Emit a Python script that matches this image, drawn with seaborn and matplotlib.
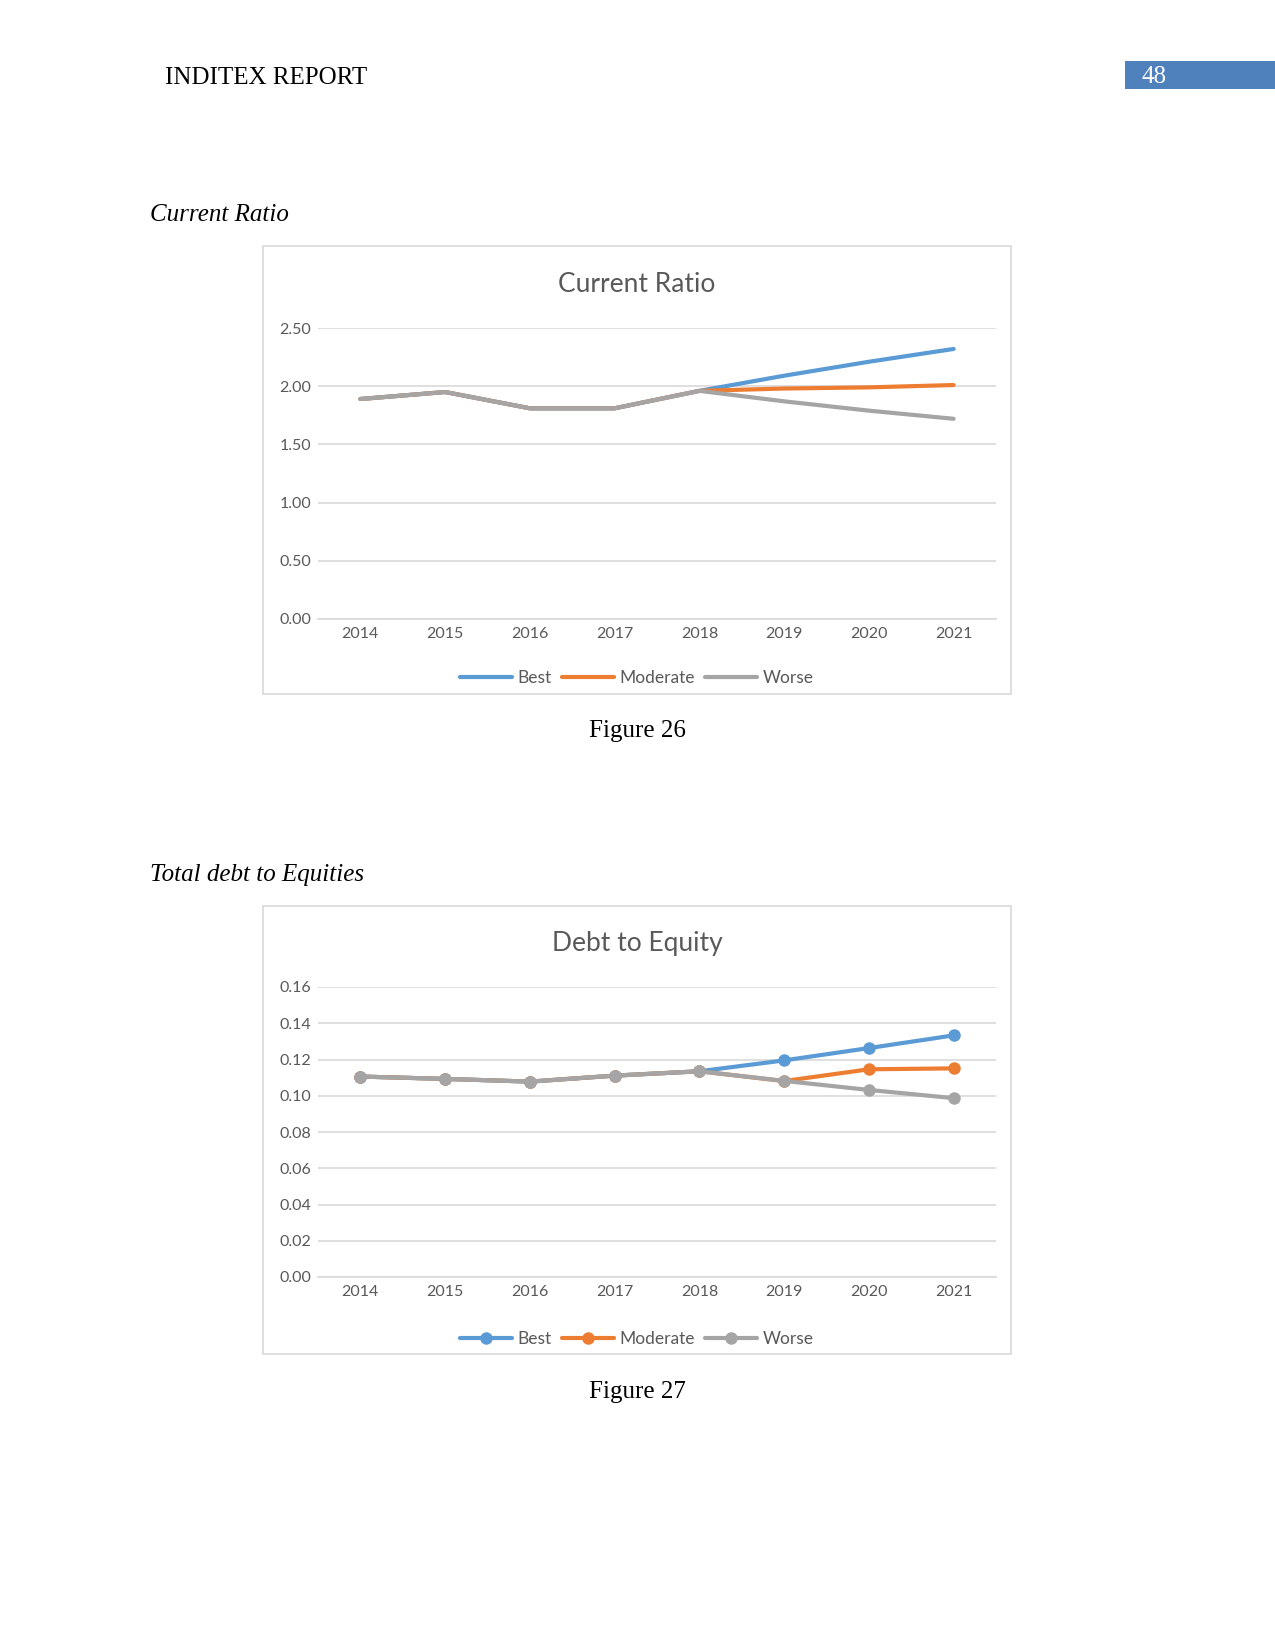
import matplotlib
matplotlib.use("Agg")
import matplotlib.pyplot as plt
import seaborn as sns
import pandas as pd
from matplotlib.patches import Rectangle

years = ["2014", "2015", "2016", "2017", "2018", "2019", "2020", "2021"]
scenarios = ["Best", "Moderate", "Worse"]

cr_best = [1.89, 1.95, 1.81, 1.81, 1.96, 2.09, 2.21, 2.32]
cr_moderate = [1.89, 1.95, 1.81, 1.81, 1.96, 1.98, 1.99, 2.01]
cr_worse = [1.89, 1.95, 1.81, 1.81, 1.96, 1.87, 1.79, 1.72]

de_best = [0.1106, 0.1093, 0.1078, 0.1111, 0.1135, 0.1195, 0.1263, 0.1333]
de_moderate = [0.1106, 0.1093, 0.1078, 0.1111, 0.1135, 0.1081, 0.1146, 0.1151]
de_worse = [0.1106, 0.1093, 0.1078, 0.1111, 0.1135, 0.1082, 0.1032, 0.0987]

cr_ticks = [0.0, 0.5, 1.0, 1.5, 2.0, 2.5]
de_ticks = [0.0, 0.02, 0.04, 0.06, 0.08, 0.10, 0.12, 0.14, 0.16]

colors = {"Best": "#5B9BD5", "Moderate": "#ED7D31", "Worse": "#A5A5A5"}
TXT = "#595959"
GRID = "#D9D9D9"

sns.set_theme(style="white")
plt.rcParams["font.family"] = ["Lato", "DejaVu Sans"]

W, H = 1275, 1650
fig = plt.figure(figsize=(W / 100, H / 100), dpi=100)


def long_df(b, m, w):
    rows = []
    for name, vals in zip(scenarios, [b, m, w]):
        for i, (y, v) in enumerate(zip(years, vals)):
            rows.append({"idx": i, "Year": y, "Scenario": name, "Value": v})
    return pd.DataFrame(rows)


def fx(px):
    return px / W


def fy(py):
    return 1 - py / H


def make_chart(box, plot, df, ticks, fmt, title, legend_y, markers):
    x0, y0, x1, y1 = box
    fig.patches.append(Rectangle((fx(x0), fy(y1)), fx(x1) - fx(x0), fy(y0) - fy(y1),
                                 transform=fig.transFigure, fill=False,
                                 edgecolor=GRID, linewidth=1.2))
    px0, py0, px1, py1 = plot
    ax = fig.add_axes([fx(px0), fy(py1), fx(px1) - fx(px0), fy(py0) - fy(py1)])
    sns.lineplot(data=df, x="idx", y="Value", hue="Scenario", hue_order=scenarios,
                 palette=colors, linewidth=3.0, ax=ax,
                 marker="o" if markers else None, markersize=9,
                 markeredgewidth=0, legend=False)
    ax.set_xlim(-0.5, len(years) - 0.5)
    ax.set_ylim(ticks[0], ticks[-1])
    ax.set_yticks(ticks)
    ax.set_yticklabels([fmt.format(t) for t in ticks], color=TXT, fontsize=11.5)
    ax.set_xticks(range(len(years)))
    ax.set_xticklabels(years, color=TXT, fontsize=11.5)
    ax.tick_params(axis="both", length=0, pad=6)
    ax.tick_params(axis="y", pad=5)
    ax.grid(axis="y", color=GRID, linewidth=1.2)
    ax.set_axisbelow(True)
    for s in ["top", "right", "left"]:
        ax.spines[s].set_visible(False)
    ax.spines["bottom"].set_color(GRID)
    ax.spines["bottom"].set_linewidth(1.2)
    ax.set_xlabel("")
    ax.set_ylabel("")
    fig.text(fx((x0 + x1) / 2), fy(title[1]), title[0], ha="center", va="center",
             fontsize=19, color=TXT)
    handles = [plt.Line2D([], [], color=colors[s], linewidth=3.0,
                          marker="o" if markers else None, markersize=9,
                          markeredgewidth=0) for s in scenarios]
    ax.legend(handles, scenarios, loc="center", ncol=3, frameon=False,
              bbox_to_anchor=(fx((x0 + x1) / 2), fy(legend_y)),
              bbox_transform=fig.transFigure, fontsize=12.5, labelcolor=TXT,
              handlelength=3.0, handletextpad=0.3, columnspacing=0.6)
    return ax


df1 = long_df(cr_best, cr_moderate, cr_worse)
df2 = long_df(de_best, de_moderate, de_worse)

make_chart((263, 246, 1011, 694), (318, 328, 996, 619), df1, cr_ticks, "{:.2f}",
           ("Current Ratio", 284), 678, False)
make_chart((263, 906, 1011, 1354), (318, 987, 996, 1277), df2, de_ticks, "{:.2f}",
           ("Debt to Equity", 944), 1339, True)

serif = ["Liberation Serif", "DejaVu Serif"]
fig.text(fx(165), fy(78), "INDITEX REPORT", ha="left", va="center",
         fontsize=18, family=serif, color="black")
fig.patches.append(Rectangle((fx(1125), fy(89)), fx(1275) - fx(1125), fy(61) - fy(89),
                             transform=fig.transFigure, facecolor="#4F81BD",
                             edgecolor="none"))
fig.text(fx(1141), fy(77), "48", ha="left", va="center", fontsize=18,
         family=serif, color="white")
fig.text(fx(150), fy(215), "Current Ratio", ha="left", va="center", fontsize=18,
         family=serif, style="italic", color="black")
fig.text(fx(637), fy(731), "Figure 26", ha="center", va="center", fontsize=18,
         family=serif, color="black")
fig.text(fx(150), fy(875), "Total debt to Equities", ha="left", va="center",
         fontsize=18, family=serif, style="italic", color="black")
fig.text(fx(637), fy(1392), "Figure 27", ha="center", va="center", fontsize=18,
         family=serif, color="black")

fig.savefig("out.png", dpi=100, facecolor="white")
